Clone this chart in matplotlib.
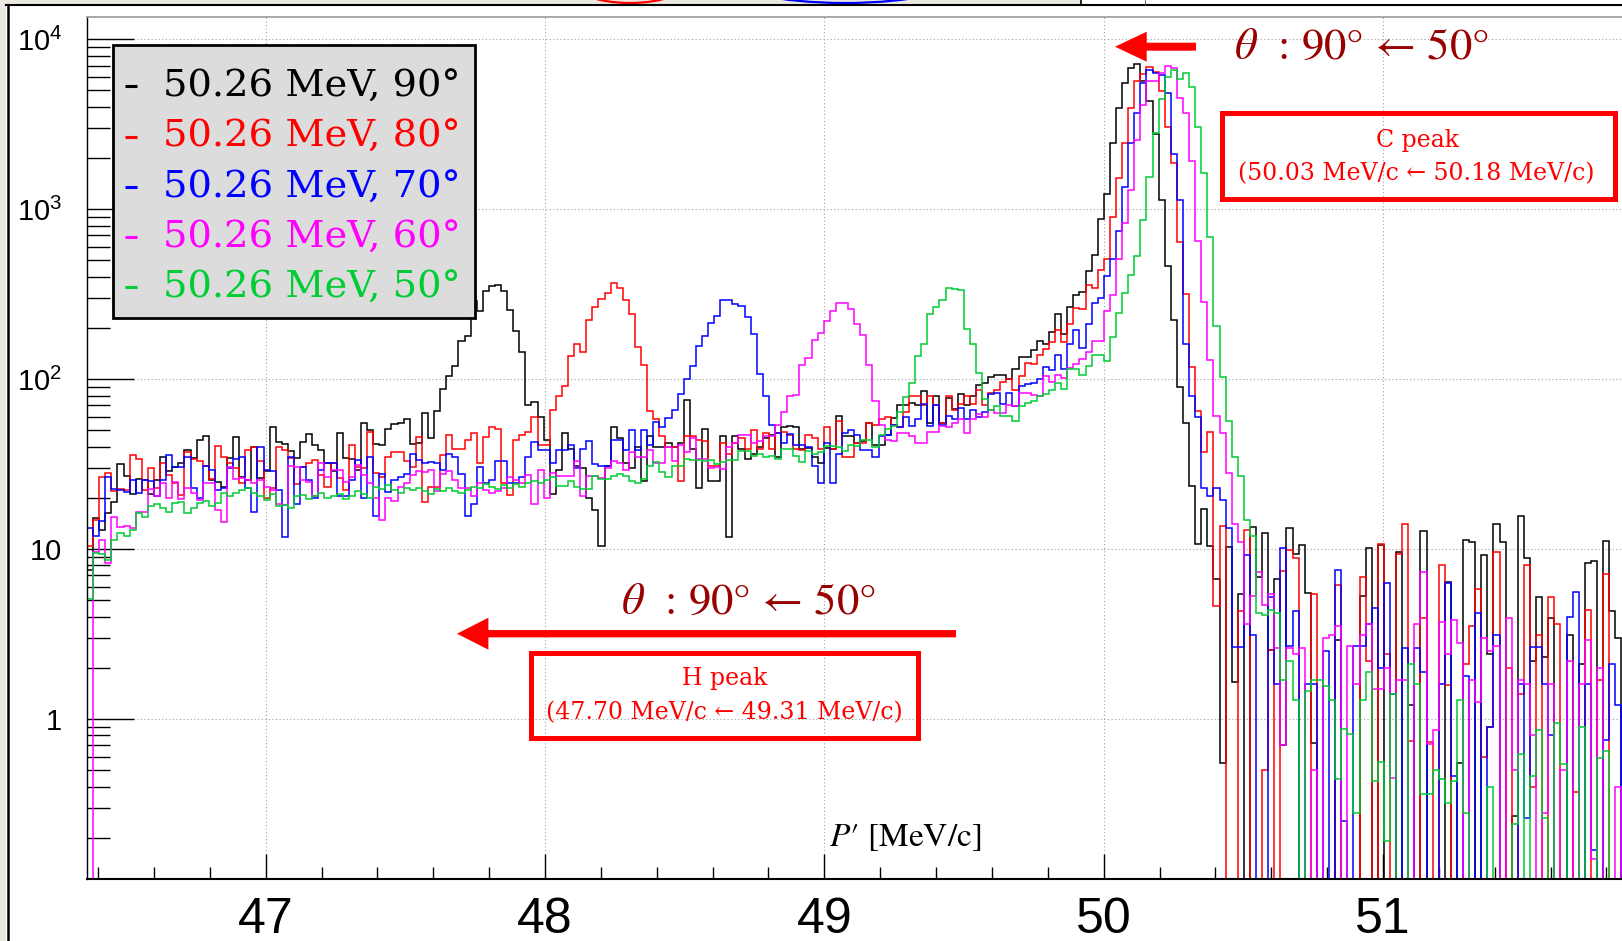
import numpy as np
import matplotlib
matplotlib.use('Agg')
import matplotlib.pyplot as plt
from matplotlib.lines import Line2D
from matplotlib.patches import Rectangle, Polygon, Ellipse
from matplotlib.ticker import FixedLocator, FixedFormatter, MultipleLocator, LogLocator, NullFormatter

# histogram binning (P' in MeV/c)
x_start = 46.36
bin_width = 0.0218

# bin contents (0 = empty bin)
black_90 = [
    7.5, 15.3, 13, 16.3, 18.8, 31.5, 27, 21, 25.7, 25.5,
    21, 25.5, 34.9, 28.6, 30.5, 31.9, 38, 34.2, 44, 46,
    25.5, 24.8, 23.3, 34.2, 45.6, 26.6, 25.5, 40, 26, 28.6,
    52, 42.4, 41.6, 37.7, 34.2, 42.4, 47.7, 41, 38.5, 31.9,
    28.9, 48, 34.2, 33.8, 29, 55, 50, 41.6, 41.2, 50.5,
    54.5, 55.5, 58, 41.6, 42, 63, 45, 65, 88, 104,
    120, 168, 179, 290, 253, 330, 355, 358, 330, 255,
    193, 145, 70, 73, 60, 44, 21, 29, 48, 39,
    31, 30, 20, 17, 10.4, 31, 52, 45, 32, 30,
    40, 25, 46, 40, 40, 42, 40, 42, 75, 39,
    23, 51, 25, 25, 46, 11.7, 46, 39, 34, 36,
    40, 45, 47, 35, 52, 53, 52, 39, 39.5, 35,
    32, 39.5, 39, 61, 46, 46, 42, 43, 55, 41,
    41, 47, 59, 70, 70, 72, 70, 85, 55, 79,
    55, 77, 67, 82, 70, 79, 92, 95, 103, 105,
    106, 100, 115, 135, 135, 149, 168, 160, 190, 242,
    183, 267, 313, 327, 430, 537, 875, 1230, 2440, 3960,
    5500, 6740, 7150, 5710, 4350, 2770, 1130, 463, 223, 90,
    55, 23.4, 10.7, 17.3, 10.4, 6.7, 0.55, 10.3, 1.65, 5.4,
    0, 13.5, 6.8, 12.4, 2.55, 6.7, 0.7, 13.3, 9.3, 10.5,
    5.5, 0.72, 0, 0, 0, 2.9, 0, 0, 0, 5.3,
    10.1, 0, 10.5, 0, 0, 9.6, 0, 1.2, 0, 12.7,
    0, 0, 0, 6.4, 0, 0.55, 11.3, 11, 0, 9.2,
    2.4, 14, 11, 0, 0.27, 15.6, 8.9, 2.2, 5.2, 2.3,
    3.9, 0, 0, 3.1, 0, 2.1, 8.3, 8.5, 0, 11.2,
    4.3, 3,
]

red_80 = [
    10.4, 14.9, 26.6, 28, 21.8, 22.5, 22.3, 35.7, 34, 22.3,
    29.8, 22.8, 31.9, 27.3, 24.4, 20.8, 37.3, 34, 33, 31,
    25.7, 40.3, 35, 31.9, 30, 24.4, 38.5, 39.9, 33, 19.9,
    22.8, 40, 38.5, 34.2, 24, 30.5, 31.9, 33.5, 27.3, 23.3,
    31.9, 26, 22.3, 40.8, 30.5, 29.8, 48.9, 28, 26.6, 35,
    37.3, 37.3, 33, 30.5, 45.8, 19, 23.3, 23.3, 35.7, 46.7,
    39, 39, 44, 48.3, 31.9, 45.8, 52, 51, 24.6, 20.8,
    43.8, 46.7, 48.9, 60, 40.9, 40.9, 65.5, 79, 91.6, 136,
    161, 144, 222, 266, 295, 323, 366, 343, 291, 242,
    155, 121, 65, 58, 46, 40, 40, 25, 46, 46,
    44, 43, 31, 31, 42, 36, 42, 45, 39, 50,
    39, 48, 39, 48, 49, 47, 39, 38, 47, 45,
    39, 52, 39, 57, 35, 35, 42, 42, 55, 54,
    58, 60, 54, 52, 64, 79, 79, 70, 80, 70,
    55, 79, 66, 71, 79, 71, 86, 70, 83, 86,
    96, 100, 86, 104, 125, 122, 139, 150, 165, 195,
    165, 212, 262, 258, 360, 345, 440, 510, 905, 1520,
    2460, 3930, 5710, 6260, 6850, 6400, 4980, 3060, 1880, 640,
    317, 117, 65, 37, 49, 4.6, 13.6, 0, 0, 4.3,
    12.9, 0, 0, 0.5, 2.55, 0, 7.4, 9.8, 8.9, 0,
    0, 5.4, 0, 0, 0, 6.1, 0, 0, 0, 6.8,
    2.2, 0, 10.7, 2.4, 0, 9.4, 14, 0.74, 0, 3.9,
    0.73, 0, 8.0, 1.58, 0, 0, 2.1, 3.5, 5.8, 0.6,
    0.9, 9.6, 0, 2.0, 0, 1.4, 8, 0.4, 3.1, 0,
    5.2, 3.6, 0, 0, 0.37, 0, 4.4, 0, 1.7, 7.1,
    0, 0,
]

blue_70 = [
    13.3, 12, 14.7, 26.6, 22.5, 22.3, 21.6, 25.5, 21.3, 25.5,
    25, 20.6, 25.5, 35.7, 30.5, 30.5, 34.9, 22.8, 19.9, 31,
    29, 22.3, 22.8, 29.8, 34, 34.9, 22.8, 16.6, 39.9, 29,
    28.6, 22.3, 11.8, 34.9, 18.4, 30.5, 25.5, 19.9, 29, 31.9,
    31.9, 20.4, 20.4, 25.5, 33.5, 19.9, 34.9, 15.7, 27.7, 21.6,
    25.5, 26.6, 27.7, 36.2, 33.5, 31.9, 32.7, 31.9, 29, 36.2,
    34.9, 27.7, 15.7, 18.4, 30.5, 24.4, 25.5, 33, 33, 24.4,
    24.4, 26.6, 34.9, 42.8, 38.5, 38, 31.9, 38, 38, 41,
    30, 39, 43, 31.5, 31, 30.6, 44, 44, 38, 50,
    38, 50, 41, 56, 52, 59, 66, 82, 100, 120,
    157, 180, 215, 236, 292, 292, 276, 268, 232, 184,
    107, 80, 54, 48, 42, 47.5, 41, 41, 40, 31,
    24.4, 42, 24.4, 36, 48, 50, 47, 38, 38, 35,
    46, 47, 54, 52, 60, 53, 58, 71, 53, 70,
    54, 61, 58, 68, 58, 66, 60, 64, 82, 83,
    71, 83, 69, 91, 93, 95, 100, 117, 113, 138,
    115, 160, 195, 152, 212, 282, 302, 405, 508, 745,
    1350, 2440, 3670, 5500, 6580, 6300, 6150, 4820, 2110, 1130,
    160, 80, 60, 23, 20.4, 23, 19.5, 13.3, 2.66, 2.66,
    9.2, 3.1, 0, 0, 5.2, 1.6, 10.1, 2.7, 4.3, 0,
    1.6, 1.6, 0, 2.5, 0, 7.5, 0.25, 0, 2.7, 2.7,
    3.6, 4.5, 2.0, 6.3, 1.4, 0, 2.6, 0, 2.6, 1.9,
    0, 0, 1.6, 6.3, 0.46, 0, 1.8, 0, 4.2, 0,
    0.9, 3.1, 0, 0, 0, 1.6, 0.26, 2.66, 2.66, 1.6,
    0.8, 0, 0, 4.0, 5.6, 0, 1.6, 0.17, 0, 0.75,
    2.1, 1.2,
]

magenta_60 = [
    0, 9.6, 11.3, 8.3, 15.5, 13.5, 13.6, 13.3, 16.6, 16.6,
    22.5, 20.5, 24.6, 20, 24.8, 19.8, 22.8, 21.3, 19.5, 24.4,
    24.4, 17, 14.5, 30.5, 25.7, 26, 25.5, 24.4, 25.5, 23.3,
    22.3, 18.4, 18.1, 31, 30.5, 25.5, 24.8, 20.4, 31.9, 26.6,
    29, 29, 24.8, 26.6, 31.4, 27.3, 24.4, 20, 14.8, 19.9,
    19.2, 23.3, 24.4, 27.3, 28.6, 28.3, 29, 22, 27.7, 28.6,
    25.5, 23, 22.8, 20.4, 24.4, 22.3, 21.3, 21.8, 22.8, 26.6,
    25.5, 24.4, 27.3, 18.4, 29, 20, 28, 27, 27, 27,
    33, 20.4, 27, 27, 26, 30, 33, 32, 29, 37,
    35, 35, 38, 32, 32, 40, 33, 41, 37, 45,
    34, 34, 30, 30.5, 29.5, 40, 42, 47, 47, 42,
    43, 46.5, 46, 54, 64, 79, 81, 121, 133, 170,
    186, 220, 251, 282, 282, 260, 210, 182, 121, 74,
    54, 44, 43, 48, 48, 46, 42, 42, 49, 49,
    53, 52, 55, 58, 48, 58, 62, 60, 66, 63,
    63, 70, 69, 83, 83, 81, 80, 104, 96.5, 106,
    102, 116, 123, 131, 144, 168, 168, 250, 313, 508,
    830, 1290, 2540, 4100, 5710, 5710, 6300, 6950, 6740, 4540,
    3700, 1920, 650, 285, 130, 61, 48, 28, 14, 11,
    3.6, 5.3, 7.3, 4.7, 5.4, 2.6, 0.7, 2.6, 2.4, 2.6,
    0, 0.5, 0, 3.0, 3.1, 3.5, 0, 2.7, 1.6, 3.1,
    3.6, 1.5, 1.5, 2.0, 0.45, 1.7, 1.7, 0, 3.6, 7.3,
    0.71, 0.86, 3.7, 2.4, 3.8, 2.8, 0, 1.7, 1.25, 3.0,
    2.5, 2.7, 0, 3.9, 0.5, 1.7, 1.6, 0.8, 0, 0.28,
    1.6, 0, 0.5, 2.2, 0, 1.6, 2.9, 0.15, 2.0, 0,
    0, 0.4,
]

green_50 = [
    5.1, 9.5, 9.3, 8.6, 11.3, 12.4, 12, 13, 16.3, 15.5,
    17.9, 18.5, 17.5, 16.6, 18.6, 19, 16.3, 17.5, 18.6, 19.2,
    18, 18.6, 21.3, 20.5, 21.5, 22.3, 22.8, 21.5, 20.4, 19.5,
    21, 17.8, 18.2, 17.5, 20.4, 20.8, 19.8, 20.4, 21.5, 20,
    20.6, 21.2, 19.8, 20.6, 22, 21, 20, 23.3, 22.5, 23.8,
    22.3, 21.5, 22.8, 22.3, 23, 21.8, 21, 22.5, 21.8, 23,
    22, 21.5, 22.2, 23.3, 22.8, 24, 23.3, 22.5, 23.8, 23,
    24, 23.3, 24.4, 25, 24.4, 25.5, 26.5, 23.6, 23.6, 25,
    23.3, 22.5, 22.5, 26.9, 25.7, 25.9, 26.9, 27.5, 26.9, 25,
    24.6, 25.7, 30.6, 32.6, 28.5, 26.6, 30.6, 30.6, 34, 33.2,
    33.2, 33, 33.2, 31.8, 32.6, 33.2, 33.2, 37.6, 37.6, 35.4,
    36.1, 35, 35.4, 34, 39, 39, 35.4, 32.6, 37.6, 36.3,
    37.2, 40.3, 40.3, 39.8, 37.8, 41, 40.3, 44, 43.7, 39.8,
    46.7, 51, 53, 64, 78, 95, 137, 161, 240, 265,
    293, 345, 340, 335, 198, 161, 108, 76, 66, 69,
    61, 61, 57, 69, 72, 74, 79, 82, 86, 95,
    88, 115, 115, 106, 120, 138, 138, 128, 178, 246,
    319, 412, 533, 866, 1540, 2820, 4430, 5970, 6590, 5800,
    6300, 5210, 3030, 1630, 684, 204, 103, 57, 35, 27,
    14.8, 12, 4.2, 4.1, 4.4, 4.2, 1.7, 2.2, 1.3, 0,
    1.45, 1.7, 1.7, 1.57, 1.3, 0.44, 0.87, 0.81, 0.28, 1.3,
    1.9, 0.43, 0.56, 0.19, 1.4, 0, 0, 2.1, 1.6, 0.36,
    0.36, 0.5, 0.44, 0.32, 0.43, 1.3, 0.28, 0, 0, 0,
    0.4, 0, 0, 0, 0.24, 0.62, 0, 0.46, 0.86, 0.26,
    0, 0.95, 0.54, 0, 0, 0.9, 0, 0, 0.59, 0.65,
    0, 0,
]

labels = ['50.26 MeV, 90°', '50.26 MeV, 80°', '50.26 MeV, 70°',
          '50.26 MeV, 60°', '50.26 MeV, 50°']
colors = ['#000000', '#ff0000', '#0000ff', '#ff00ff', '#00cc33']
series = [black_90, red_80, blue_70, magenta_60, green_50]

W, H = 1622, 941
plt.rcParams['font.family'] = ['Liberation Sans', 'DejaVu Sans']
plt.rcParams['mathtext.fontset'] = 'custom'
plt.rcParams['mathtext.rm'] = 'Liberation Sans'
plt.rcParams['mathtext.it'] = 'Liberation Sans:italic'
plt.rcParams['mathtext.bf'] = 'Liberation Sans:bold'


def fx(px):
    return px / W


def fy(py):
    return 1 - py / H


fig = plt.figure(figsize=(W / 100, H / 100), dpi=100)
ax = fig.add_axes([fx(87), fy(878.7), 1535 / W, (878.7 - 17.5) / H])

for vals, col in zip(series, colors):
    v = np.asarray(vals, dtype=float)
    v = np.where(v > 0, v, 1e-6)   # empty bins drop to the frame bottom
    edges = x_start + bin_width * np.arange(len(v) + 1)
    ax.stairs(v, edges, baseline=1e-6, color=col, lw=1.1)

ax.set_yscale('log')
ax.set_xlim(x_start, x_start + 1535 / 279.3)
ax.set_ylim(0.1147, 13430)

ax.xaxis.set_major_locator(FixedLocator([47, 48, 49, 50, 51]))
ax.xaxis.set_minor_locator(MultipleLocator(0.2))
ax.yaxis.set_major_locator(FixedLocator([1, 10, 100, 1000, 10000]))
ax.yaxis.set_major_formatter(FixedFormatter(['1', '10', '$10^{2}$', '$10^{3}$', '$10^{4}$']))
ax.yaxis.set_minor_locator(LogLocator(base=10, subs=np.arange(2, 10)))
ax.yaxis.set_minor_formatter(NullFormatter())

ax.tick_params(axis='x', which='major', direction='in', length=18, width=1, labelsize=36, pad=13)
ax.tick_params(axis='x', which='minor', direction='in', length=9, width=1)
ax.tick_params(axis='y', which='major', direction='in', length=34, width=1, labelsize=21, pad=18)
ax.tick_params(axis='y', which='minor', direction='in', length=16.5, width=1)

ax.grid(True, which='major', color='#a0a0a0', linestyle=(0, (1, 2.2)), lw=0.8)
ax.set_axisbelow(True)
ax.spines['right'].set_visible(False)
ax.spines['top'].set_color('#999999')
ax.spines['top'].set_linewidth(1.2)
ax.spines['left'].set_linewidth(1.0)
ax.spines['bottom'].set_linewidth(1.5)

# axis title
fig.text(fx(981), fy(846), "$P$′ [MeV/c]", fontsize=24, family='STIXGeneral',
         math_fontfamily='stix', ha='right', va='baseline')

# legend box
fig.add_artist(Rectangle((fx(113), fy(318)), 362 / W, 273 / H, transform=fig.transFigure,
                         facecolor='#dcdcdc', edgecolor='black', lw=2, zorder=5))
for i, (lab, col) in enumerate(zip(labels, colors)):
    base = 96.7 + 50.3 * i
    fig.add_artist(Line2D([fx(125), fx(137)], [fy(base - 10.5)] * 2, transform=fig.transFigure,
                          color=col, lw=2.2, solid_capstyle='butt', zorder=6))
    fig.text(fx(163), fy(base), lab, color=col, fontsize=27.6,
             family=['DejaVu Serif', 'DejaVu Sans'], ha='left', va='baseline', zorder=6)


def left_arrow(tail, tip, y, thick, head_len, head_h):
    pts = [(tail, y - thick / 2), (tip + head_len, y - thick / 2), (tip + head_len, y - head_h / 2),
           (tip, y), (tip + head_len, y + head_h / 2), (tip + head_len, y + thick / 2),
           (tail, y + thick / 2)]
    return Polygon([(fx(a), fy(b)) for a, b in pts], closed=True, transform=fig.transFigure,
                   facecolor='#ff0000', edgecolor='none', zorder=6)


fig.add_artist(left_arrow(1196, 1115, 46.7, 8, 31.7, 30))
fig.add_artist(left_arrow(956, 457, 633.7, 7.3, 31.4, 32))

theta_txt = r'$\theta$  : 90° ← 50°'
fig.text(fx(1361), fy(48.3), theta_txt, fontsize=32, family='STIXGeneral', math_fontfamily='stix',
         color='#990000', ha='center', va='center', zorder=6)
fig.text(fx(748), fy(603.3), theta_txt, fontsize=32, family='STIXGeneral', math_fontfamily='stix',
         color='#990000', ha='center', va='center', zorder=6)

# peak boxes
serif = ['DejaVu Serif', 'DejaVu Sans']
fig.add_artist(Rectangle((fx(1222), fy(199)), 392.5 / W, 86.5 / H, transform=fig.transFigure,
                         facecolor='none', edgecolor='#ff0000', lw=3.6, zorder=6))
fig.text(fx(1418), fy(140), 'C peak', color='#ff0000', fontsize=17, family=serif,
         ha='center', va='center', zorder=6)
fig.text(fx(1416), fy(173.3), '(50.03 MeV/c ← 50.18 MeV/c)', color='#ff0000', fontsize=17,
         family=serif, ha='center', va='center', zorder=6)

fig.add_artist(Rectangle((fx(530.5), fy(738)), 387.5 / W, 85.5 / H, transform=fig.transFigure,
                         facecolor='none', edgecolor='#ff0000', lw=3.6, zorder=6))
fig.text(fx(725), fy(678), 'H peak', color='#ff0000', fontsize=17, family=serif,
         ha='center', va='center', zorder=6)
fig.text(fx(724), fy(713), '(47.70 MeV/c ← 49.31 MeV/c)', color='#ff0000', fontsize=17,
         family=serif, ha='center', va='center', zorder=6)

# canvas border and the cut-off edge of the pad above
beige = '#ebe8e0'
fig.add_artist(Rectangle((0, 0), fx(6), 1, transform=fig.transFigure, facecolor=beige,
                         edgecolor='none', zorder=1))
fig.add_artist(Rectangle((0, fy(4.5)), fx(1081), 4.5 / H, transform=fig.transFigure,
                         facecolor=beige, edgecolor='none', zorder=1))
fig.add_artist(Ellipse((fx(630), fy(-20)), 120 / W, 46 / H, transform=fig.transFigure,
                       facecolor='none', edgecolor='#ff0000', lw=1.6, zorder=2))
fig.add_artist(Ellipse((fx(845), fy(-24)), 240 / W, 54 / H, transform=fig.transFigure,
                       facecolor='none', edgecolor='#0000ff', lw=1.6, zorder=2))
fig.add_artist(Line2D([fx(6), 1], [fy(5)] * 2, transform=fig.transFigure,
                      color='black', lw=1.5, zorder=3))
fig.add_artist(Line2D([fx(7.5)] * 2, [fy(5), 0], transform=fig.transFigure,
                      color='black', lw=1.8, zorder=3))
fig.add_artist(Line2D([fx(1081)] * 2, [fy(5), 1], transform=fig.transFigure,
                      color='black', lw=1.2, zorder=3))
fig.add_artist(Line2D([fx(1145)] * 2, [fy(5), 1], transform=fig.transFigure,
                      color='#555555', lw=0.6, zorder=3))

fig.savefig('out.png', dpi=100)
